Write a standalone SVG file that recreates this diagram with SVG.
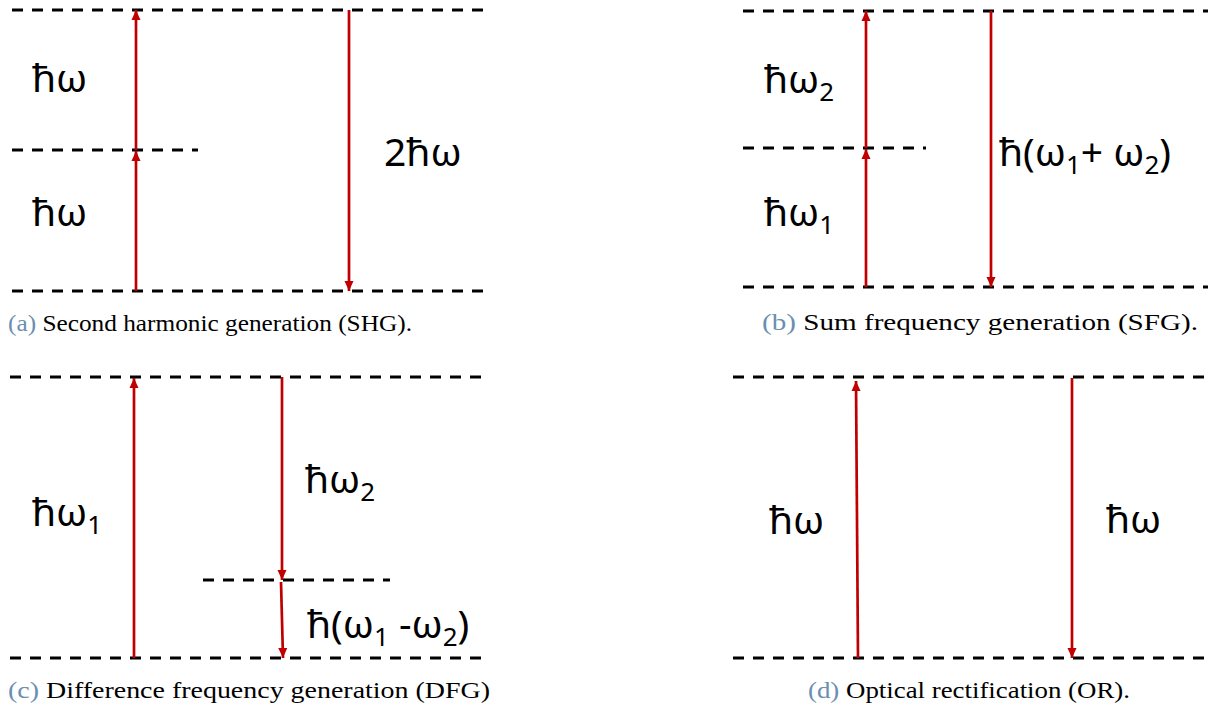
<svg xmlns="http://www.w3.org/2000/svg" width="1208" height="711" viewBox="0 0 1208 711">
<style>
.lvl{stroke:#000;stroke-width:3;stroke-dasharray:11 9;fill:none}
.arr{stroke:#C00000;stroke-width:2.7;fill:none}
.lab{font-family:"Noto Sans","Open Sans",sans-serif;font-size:39px;fill:#000}
.sub{font-size:26px}
.cap{font-family:"Liberation Serif","Times New Roman",serif;font-size:23px;fill:#000}
.capl{fill:#6b8fb0}
</style>
<defs>
<marker id="ah" viewBox="0 0 10 10" refX="10" refY="5" markerWidth="11" markerHeight="10" markerUnits="userSpaceOnUse" orient="auto">
<path d="M0,0.5 L10,5 L0,9.5 Z" fill="#C00000"/>
</marker>
</defs>
<rect width="1208" height="711" fill="#fff"/>

<g id="levels">
<line class="lvl" x1="12" y1="10" x2="487" y2="10"/>
<line class="lvl" x1="12" y1="150" x2="198" y2="150"/>
<line class="lvl" x1="12" y1="291" x2="487" y2="291"/>
<line class="lvl" x1="743" y1="11" x2="1208" y2="11"/>
<line class="lvl" x1="743" y1="148" x2="926" y2="148"/>
<line class="lvl" x1="743" y1="287" x2="1208" y2="287"/>
<line class="lvl" x1="10" y1="377" x2="487" y2="377"/>
<line class="lvl" x1="203" y1="580" x2="390" y2="580"/>
<line class="lvl" x1="10" y1="658" x2="487" y2="658"/>
<line class="lvl" x1="733" y1="377" x2="1208" y2="377"/>
<line class="lvl" x1="733" y1="658" x2="1208" y2="658"/>
</g>

<g id="connectors">
<line class="arr" x1="136" y1="291" x2="136" y2="151" marker-end="url(#ah)"/>
<line class="arr" x1="136" y1="150" x2="136" y2="10" marker-end="url(#ah)"/>
<line class="arr" x1="349" y1="10" x2="349" y2="291" marker-end="url(#ah)"/>
<line class="arr" x1="866" y1="287" x2="866" y2="149" marker-end="url(#ah)"/>
<line class="arr" x1="866" y1="148" x2="866" y2="11" marker-end="url(#ah)"/>
<line class="arr" x1="991" y1="11" x2="991" y2="287" marker-end="url(#ah)"/>
<line class="arr" x1="134" y1="658" x2="134" y2="378" marker-end="url(#ah)"/>
<line class="arr" x1="282" y1="377" x2="282" y2="580" marker-end="url(#ah)"/>
<line class="arr" x1="281" y1="582" x2="283" y2="658" marker-end="url(#ah)"/>
<line class="arr" x1="858" y1="658" x2="856" y2="381" marker-end="url(#ah)"/>
<line class="arr" x1="1072" y1="378" x2="1072" y2="658" marker-end="url(#ah)"/>
</g>

<g id="shg">
<text class="lab" x="32" y="92">ħω</text>
<text class="lab" x="32" y="226">ħω</text>
<text class="lab" x="384" y="166">2ħω</text>
<text class="cap" x="8" y="331" textLength="404" lengthAdjust="spacingAndGlyphs"><tspan class="capl">(a)</tspan> Second harmonic generation (SHG).</text>
</g>

<g id="sfg">
<text class="lab" x="764" y="93">ħω<tspan class="sub" dy="8">2</tspan></text>
<text class="lab" x="764" y="226">ħω<tspan class="sub" dy="8">1</tspan></text>
<text class="lab" x="999" y="166">ħ(ω<tspan class="sub" dy="8">1</tspan><tspan dy="-8">+ ω</tspan><tspan class="sub" dy="8">2</tspan><tspan dy="-8">)</tspan></text>
<text class="cap" x="762" y="330" textLength="436" lengthAdjust="spacingAndGlyphs"><tspan class="capl">(b)</tspan> Sum frequency generation (SFG).</text>
</g>

<g id="dfg">
<text class="lab" x="32" y="526">ħω<tspan class="sub" dy="8">1</tspan></text>
<text class="lab" x="305" y="493">ħω<tspan class="sub" dy="8">2</tspan></text>
<text class="lab" x="307" y="638">ħ(ω<tspan class="sub" dy="8">1</tspan><tspan dy="-8"> -ω</tspan><tspan class="sub" dy="8">2</tspan><tspan dy="-8">)</tspan></text>
<text class="cap" x="8" y="698" textLength="482" lengthAdjust="spacingAndGlyphs"><tspan class="capl">(c)</tspan> Difference frequency generation (DFG)</text>
</g>

<g id="or">
<text class="lab" x="769" y="534">ħω</text>
<text class="lab" x="1106" y="533">ħω</text>
<text class="cap" x="808" y="698" textLength="322" lengthAdjust="spacingAndGlyphs"><tspan class="capl">(d)</tspan> Optical rectification (OR).</text>
</g>
</svg>
